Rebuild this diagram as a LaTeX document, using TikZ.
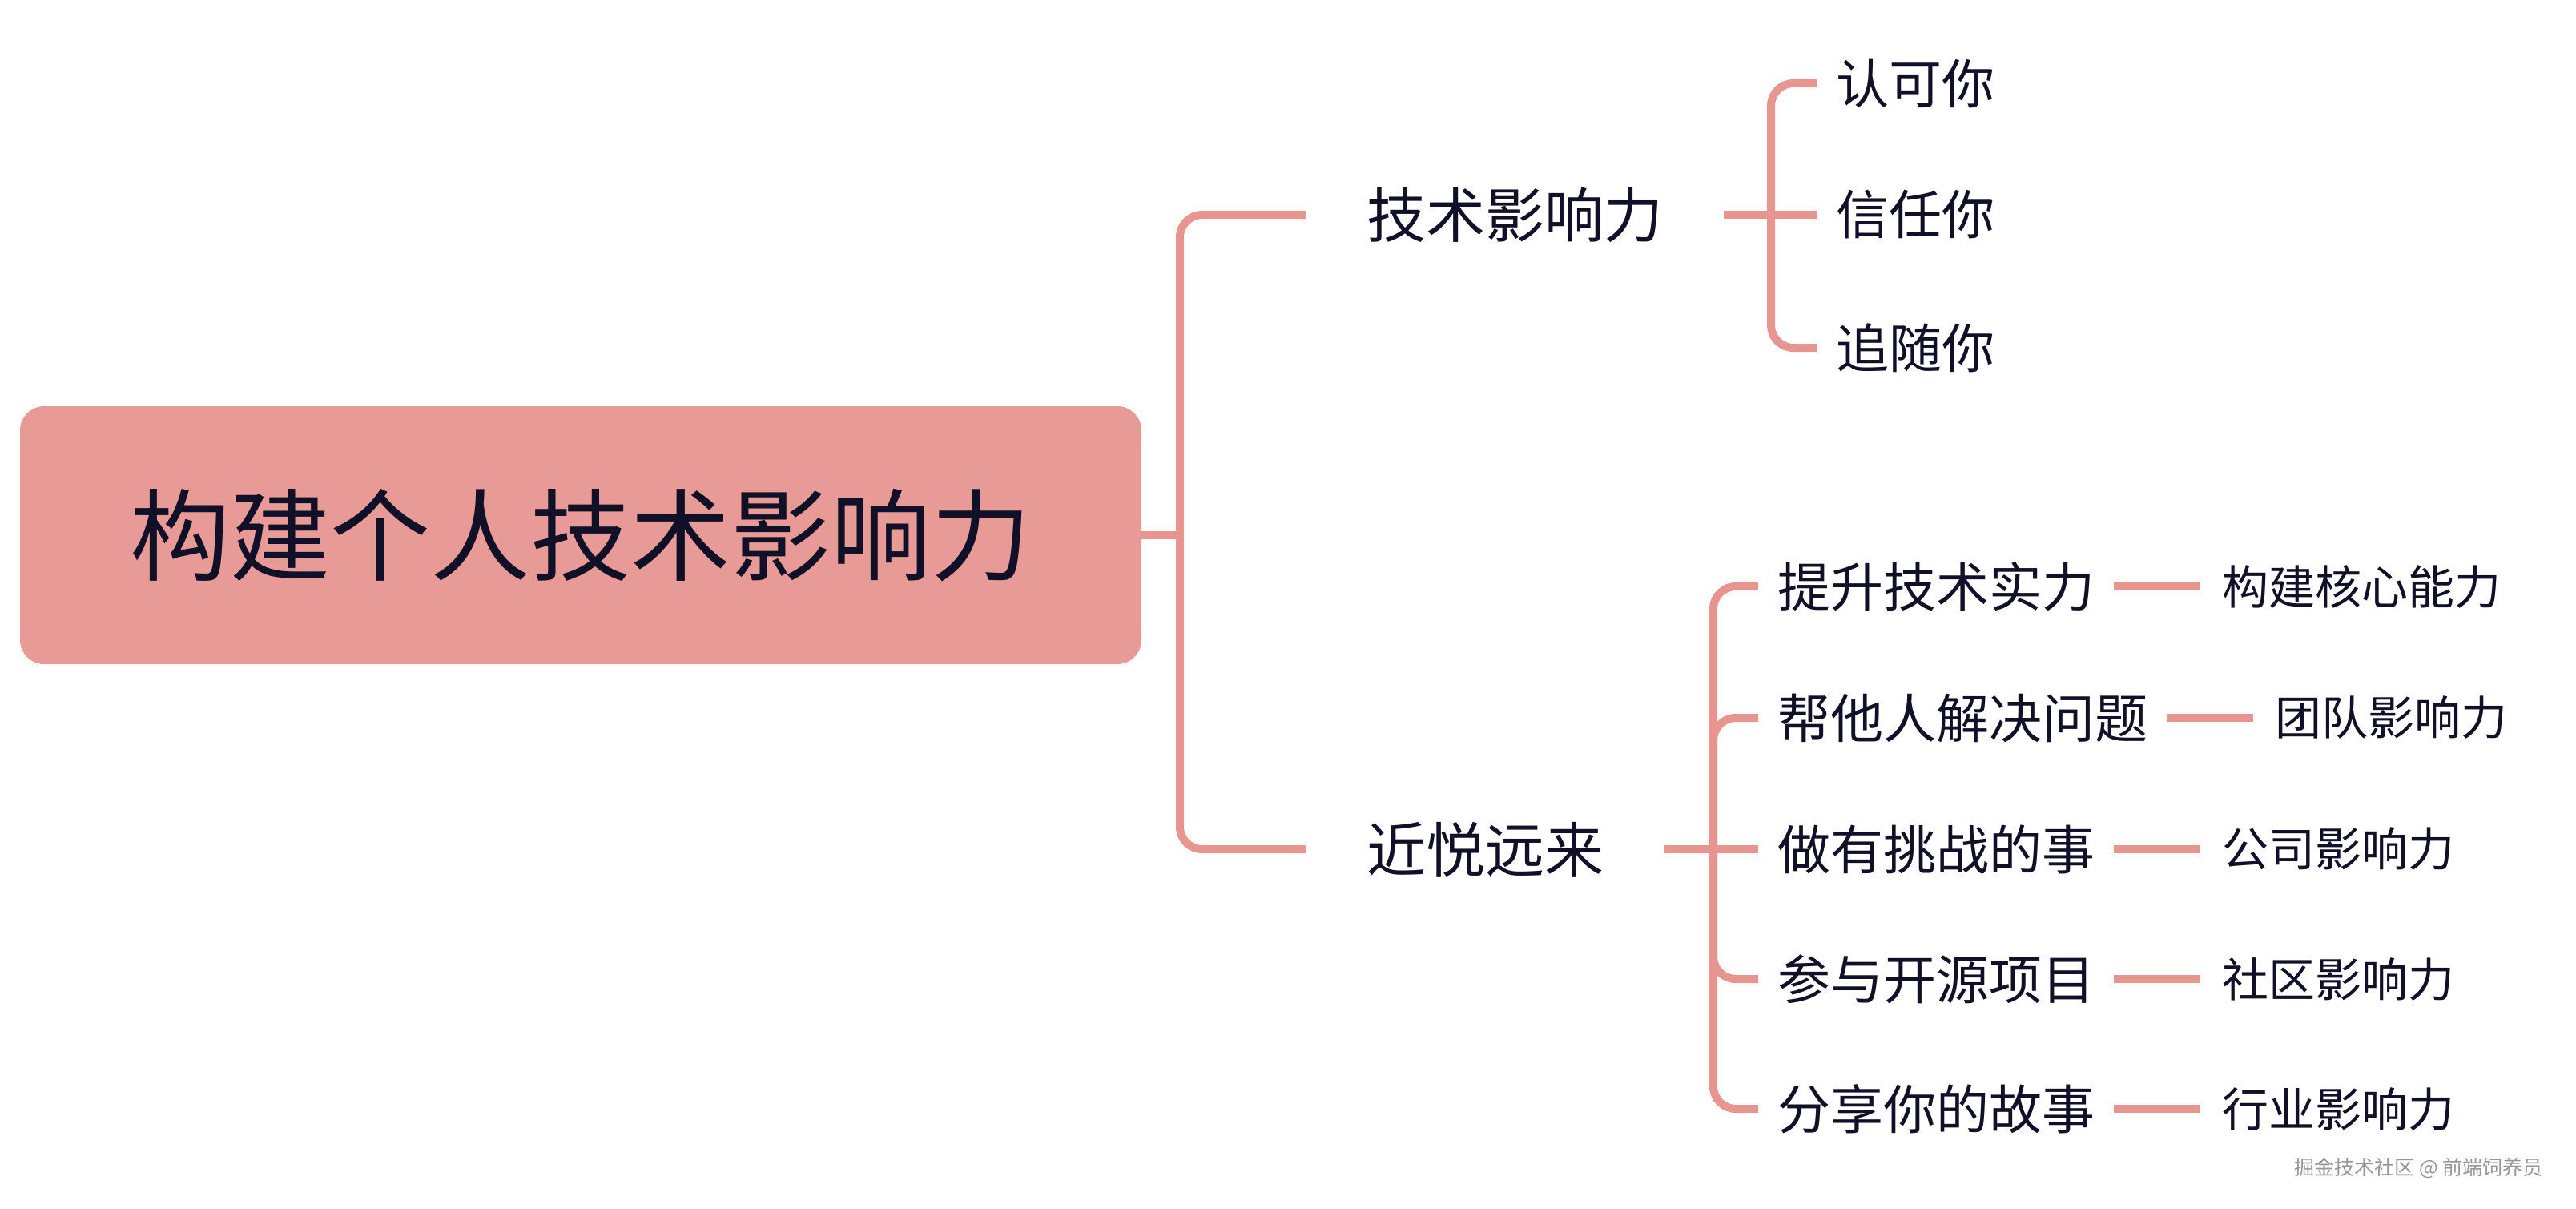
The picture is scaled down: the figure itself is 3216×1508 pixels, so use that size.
\documentclass[tikz,border=0pt]{standalone}
\usepackage{fontspec}
\setmainfont{Noto Sans CJK SC}
\usetikzlibrary{positioning}
\definecolor{linec}{RGB}{232,148,143}
\definecolor{rootc}{RGB}{232,155,150}
\definecolor{txt}{RGB}{16,16,40}
\definecolor{wm}{RGB}{150,150,150}
\tikzset{
  conn/.style={draw=linec, line width=10pt},
  roundconn/.style={conn, rounded corners=28pt},
  rootbox/.style={fill=rootc, rounded corners=30pt, minimum width=1400pt, minimum height=322pt, text=txt, font=\fontsize{125}{130}\selectfont},
  lvA/.style={anchor=west, inner xsep=76pt, inner ysep=0pt, text=txt, font=\fontsize{74}{80}\selectfont},
  lvB/.style={anchor=west, inner xsep=24pt, inner ysep=0pt, text=txt, font=\fontsize{66}{72}\selectfont},
  leaf/.style={inner xsep=27pt, inner ysep=0pt, text=txt, font=\fontsize{58}{62}\selectfont},
  wmark/.style={anchor=east, inner sep=0pt, text=wm, font=\fontsize{25}{28}\selectfont},
}
\begin{document}
\begin{tikzpicture}[x=1pt,y=-1pt]
\useasboundingbox (0,0) rectangle (3216,1508);
% root
\node[rootbox] (root) at (725,668) {构建个人技术影响力};
% level 1
\node[lvA] (A1) at (1630,268) {技术影响力};
\node[lvA] (A2) at (1630,1060) {近悦远来};
% level 2 (group 1)
\node[lvB] (B1) at (2268,104) {认可你};
\node[lvB] (B2) at (2268,268) {信任你};
\node[lvB] (B3) at (2268,434) {追随你};
% level 2 (group 2)
\node[lvB] (C1) at (2195,732) {提升技术实力};
\node[lvB] (C2) at (2195,896) {帮他人解决问题};
\node[lvB] (C3) at (2195,1060) {做有挑战的事};
\node[lvB] (C4) at (2195,1222) {参与开源项目};
\node[lvB] (C5) at (2195,1384) {分享你的故事};
% leaves
\node[leaf, right=108pt of C1] (D1) {构建核心能力};
\node[leaf, right=108pt of C2] (D2) {团队影响力};
\node[leaf, right=108pt of C3] (D3) {公司影响力};
\node[leaf, right=108pt of C4] (D4) {社区影响力};
\node[leaf, right=108pt of C5] (D5) {行业影响力};
% trunks
\coordinate (T0) at (1473,668);
\coordinate (TA) at (2211,268);
\coordinate (TB) at (2139,1060);
% root connectors
\draw[conn] (root.east) -- (T0);
\draw[roundconn] (A1.west) -- (A1.west -| T0) -- (A2.west -| T0) -- (A2.west);
% group 1
\draw[conn] (A1.east) -- (A1.east -| TA);
\draw[roundconn] (B1.west) -- (B1.west -| TA) -- (B3.west -| TA) -- (B3.west);
\draw[conn] (A1.east -| TA) -- (B2.west);
% group 2
\draw[conn] (A2.east) -- (A2.east -| TB);
\draw[roundconn] (C1.west) -- (C1.west -| TB) -- (C5.west -| TB) -- (C5.west);
\draw[roundconn] (A2.east -| TB) -- (C2.west -| TB) -- (C2.west);
\draw[roundconn] (A2.east -| TB) -- (C4.west -| TB) -- (C4.west);
\draw[conn] (A2.east -| TB) -- (C3.west);
% leaf connectors
\draw[conn] (C1.east) -- (D1.west);
\draw[conn] (C2.east) -- (D2.west);
\draw[conn] (C3.east) -- (D3.west);
\draw[conn] (C4.east) -- (D4.west);
\draw[conn] (C5.east) -- (D5.west);
% watermark
\node[wmark] (wm) at (3175,1458) {掘金技术社区 @ 前端饲养员};
\end{tikzpicture}
\end{document}
